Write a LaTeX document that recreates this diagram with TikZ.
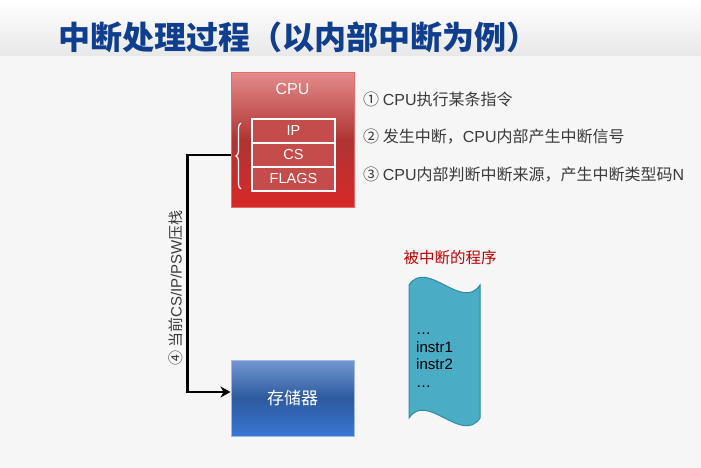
\documentclass[tikz,border=0pt]{standalone}
\usepackage{fontspec}
\setmainfont{Noto Sans CJK SC}
\newfontfamily\latinfont{Liberation Sans}
\usepackage{tikz}
\usetikzlibrary{arrows.meta,positioning,decorations.pathreplacing}
\definecolor{pagebg}{HTML}{F6F6F6}
\definecolor{headbot}{HTML}{E8E8E8}
\definecolor{ttlblue}{HTML}{103E8E}
\definecolor{cputop}{HTML}{E48A8A}
\definecolor{cpumid}{HTML}{B03434}
\definecolor{cpubot}{HTML}{D82828}
\definecolor{cpuedge}{HTML}{E46A6A}
\definecolor{regred}{HTML}{C44C4B}
\definecolor{memtop}{HTML}{7398D3}
\definecolor{memmid}{HTML}{2D5A9E}
\definecolor{membot}{HTML}{3877D3}
\definecolor{memedge}{HTML}{9DB9E6}
\definecolor{tapefill}{HTML}{4BACC6}
\definecolor{tapeedge}{HTML}{2E8BA3}
\definecolor{progred}{HTML}{C00000}
\definecolor{txtgray}{HTML}{3A3A3A}

\begin{document}
\begin{tikzpicture}[
  x=1pt, y=-1pt,
  cpubox/.style={rectangle, draw=cpuedge, line width=1pt, top color=cputop,
              bottom color=cpubot, middle color=cpumid,
              minimum width=123pt, minimum height=134pt},
  regbox/.style={rectangle, draw=white, line width=1.5pt, fill=regred,
              minimum width=83pt, minimum height=24pt, outer sep=0pt, inner sep=0pt,
              text=white, font=\latinfont\fontsize{14.5}{16}\selectfont},
  membox/.style={rectangle, draw=memedge, line width=1pt, top color=memtop,
              bottom color=membot, middle color=memmid,
              minimum width=123pt, minimum height=76pt, text=white,
              font=\fontsize{17}{19}\selectfont},
  steptext/.style={anchor=west, text=txtgray, inner sep=0pt,
              font=\fontsize{16}{18}\selectfont},
  arrow/.style={-{Stealth[length=10pt,width=11pt,inset=3pt]}, line width=2.5pt, black},
  brace/.style={decorate, decoration={brace, amplitude=5pt}, draw=white, line width=1.2pt},
]
\useasboundingbox (0,0) rectangle (701,468);

% Page and header band
\fill[pagebg] (0,0) rectangle (701,468);
\shade[top color=white, bottom color=headbot] (0,0) rectangle (701,56);
\node[anchor=west, text=ttlblue, font=\bfseries\fontsize{32}{34}\selectfont] (title) at (55,37) {中断处理过程（以内部中断为例）};

% CPU with its registers
\node[cpubox] (cpu) at (292.5,140) {};
\node[text=white, font=\latinfont\fontsize{16}{18}\selectfont] (cpulabel) at (292.5,89) {CPU};
\node[regbox] (ip) at (293.5,131) {IP};
\node[regbox, below=0pt of ip] (cs) {CS};
\node[regbox, below=0pt of cs] (flags) {FLAGS};
\draw[brace] (241,189) -- (241,123);

% Steps
\node[steptext] (step1) at (363,99) {① {\latinfont CPU}执行某条指令};
\node[steptext] (step2) at (363,137) {② 发生中断，{\latinfont CPU}内部产生中断信号};
\node[steptext] (step3) at (363,175) {③ {\latinfont CPU}内部判断中断来源，产生中断类型码{\latinfont N}};

% Memory
\node[membox] (mem) at (292.5,398) {存储器};

% Push onto the stack
\draw[arrow] (cpu.west |- cs.west) -- ++(-43,0) |- ([yshift=6pt]mem.west);
\node[rotate=90, text=txtgray, font=\fontsize{15}{17}\selectfont] (pushlabel) at (176,288) {④ 当前{\latinfont CS/IP/PSW}压栈};

% Interrupted program
\node[text=progred, font=\fontsize{15.5}{18}\selectfont] (proglabel) at (450,258) {被中断的程序};
\draw[fill=tapefill, draw=tapeedge, line width=1pt]
  (409,285) .. controls (427,258) and (462,312) .. (480,285) -- (480,418)
  .. controls (462,445) and (427,391) .. (409,418) -- cycle;
\node[anchor=north west, align=left, text=black, inner sep=0pt,
  font=\latinfont\fontsize{15}{17.5}\selectfont] (code) at (416,333) {…\\instr1\\instr2\\…};
\end{tikzpicture}
\end{document}
